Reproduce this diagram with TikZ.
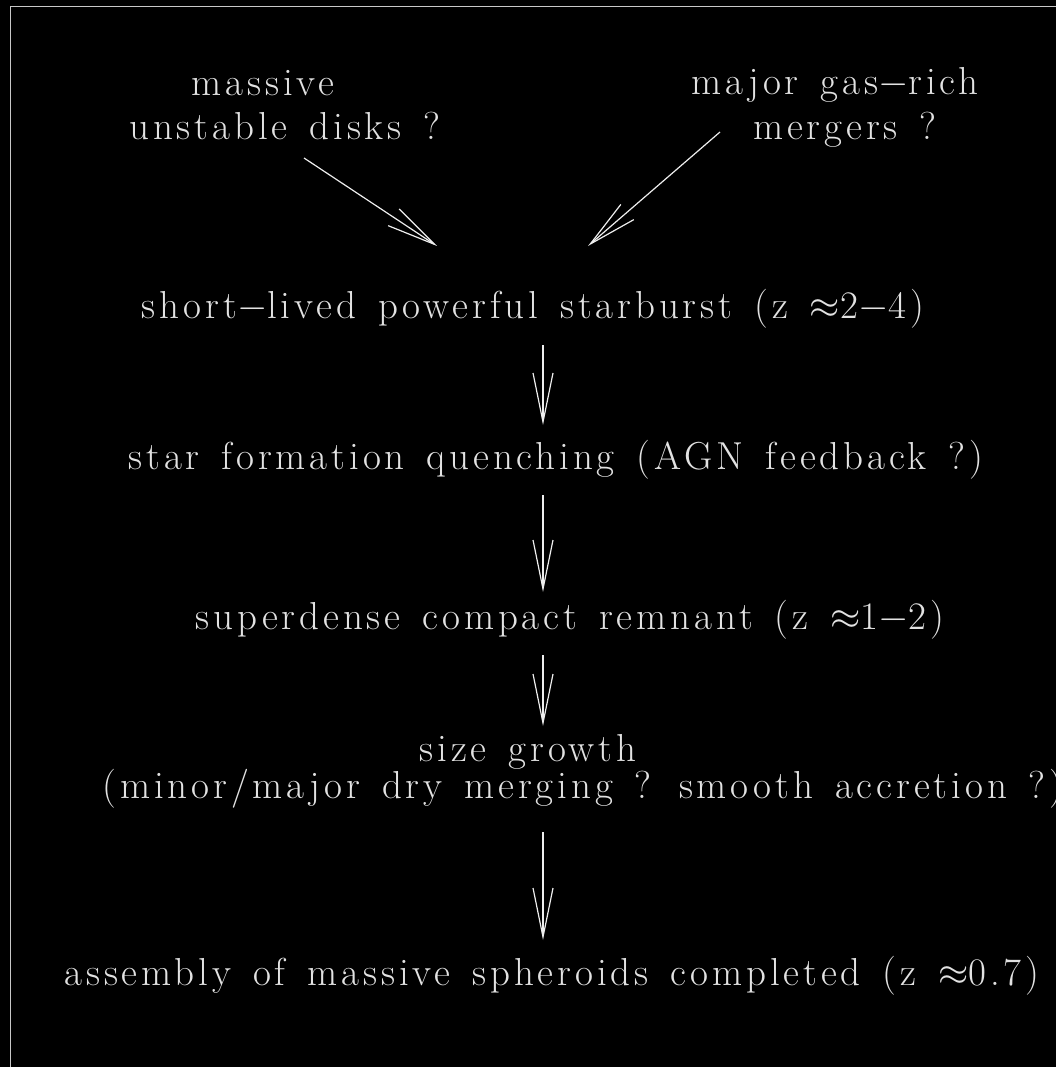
\RequirePackage{fix-cm}
\documentclass[tikz,border=0pt]{standalone}
\usepackage{fontspec}
\setmainfont{Latin Modern Roman}[LetterSpace=10,WordSpace=1.4]
\usetikzlibrary{arrows.meta,calc}
\definecolor{txt}{HTML}{E2E2E2}
\definecolor{lin}{HTML}{EEEEEE}
\definecolor{frame}{HTML}{C8C8C8}
\newcommand{\mns}{$-$}
\newcommand{\apx}{$\approx$}
\begin{document}
\begin{tikzpicture}[x=1pt,y=-1pt,
  lab/.style={anchor=base,inner sep=0pt,text=txt,font=\fontsize{39}{46}\selectfont},
  arr/.style={draw=lin,line width=1.2pt,-{Straight Barb[length=49pt,width=20pt,line width=1.2pt]}}]
\clip (0,0) rectangle (1056,1067);
\fill[black] (0,0) rectangle (1056,1067);
\draw[frame,line width=1.5pt] (10.5,6.5) rectangle (1080,1090);
\coordinate (axis) at (543,0);
\node[lab] (mass) at (263,96) {massive};
\node[lab] (unst) at (285,140) {unstable disks ?};
\node[lab] (major) at (835,95) {major gas\mns rich};
\node[lab] (merg) at (845,140) {mergers ?};
\node[lab] (sb) at (533,318) {short\mns lived powerful starburst (z \apx 2\mns 4)};
\node[lab] (sfq) at (556,469) {star formation quenching (AGN feedback ?)};
\node[lab] (sup) at (570,629) {superdense compact remnant (z \apx 1\mns 2)};
\node[lab] (sg) at (528,761) {size growth};
\node[lab] (minor) at (583,798) {(minor/major dry merging ? smooth accretion ?)};
\node[lab] (asm) at (552,985) {assembly of massive spheroids completed (z \apx 0.7)};
\draw[arr] ($(unst.base)+(19,18)$) -- ($(sb.base)+(-96,-72)$);
\draw[arr] ($(merg.base)+(-125,-8)$) -- ($(sb.base)+(55,-72)$);
\draw[arr] ($(sb.base -| axis)+(0,27)$) -- ($(sfq.base -| axis)+(0,-44)$);
\draw[arr] ($(sfq.base -| axis)+(0,26)$) -- ($(sup.base -| axis)+(0,-37)$);
\draw[arr] ($(sup.base -| axis)+(0,26)$) -- ($(sg.base -| axis)+(0,-35)$);
\draw[arr] ($(minor.base -| axis)+(0,34)$) -- ($(asm.base -| axis)+(0,-45)$);
\end{tikzpicture}
\end{document}
